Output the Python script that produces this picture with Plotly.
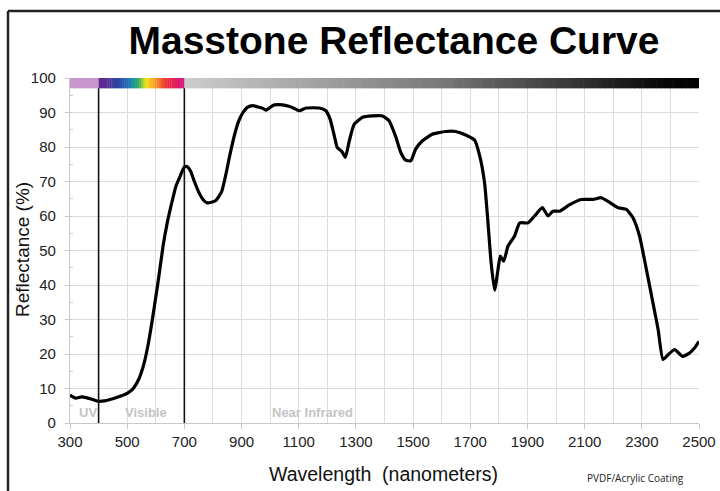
import plotly.graph_objects as go

# ---- data ----
wavelength = [300, 320, 340, 360, 380, 400, 420, 440, 460, 480, 500, 520, 540, 550, 560, 575, 590, 600, 610,
              625, 640, 655, 670, 685, 700, 710, 722, 735, 750, 765, 780, 795, 810, 830, 845, 860, 876, 890,
              905, 920, 940, 957, 975, 986, 1000, 1015, 1044, 1065, 1079, 1102, 1126, 1172, 1195, 1210, 1225,
              1235, 1251, 1263, 1277, 1294, 1323, 1358, 1393, 1416, 1430, 1440, 1457, 1474, 1492, 1509, 1533,
              1567, 1614, 1649, 1684, 1715, 1733, 1750, 1762, 1773, 1785, 1797, 1805, 1817, 1832, 1855, 1873,
              1902, 1925, 1952, 1972, 1989, 2013, 2048, 2088, 2129, 2158, 2181, 2217, 2246, 2269, 2292, 2316,
              2339, 2357, 2374, 2392, 2415, 2442, 2467, 2485, 2500]
reflectance = [8.1, 7.2, 7.6, 7.3, 6.8, 6.3, 6.4, 6.8, 7.3, 7.9, 8.6, 9.9, 12.6, 14.8, 17.6, 23.5, 31, 36.5, 42,
               51, 58, 63.5, 68.5, 71.5, 74.2, 74.3, 73, 70, 67, 64.8, 63.8, 64, 64.5, 67, 72, 78, 83.7, 87.5,
               90, 91.5, 92, 91.6, 91.2, 90.7, 91.5, 92.2, 92.2, 91.8, 91.4, 90.5, 91.3, 91.3, 90.5, 88, 83,
               79.8, 78.7, 77, 81.8, 86.6, 88.6, 89, 89, 87.6, 85, 82.8, 78.4, 76.2, 76, 79.4, 81.8,
               83.7, 84.5, 84.5, 83.5, 82, 77.4, 69.6, 58, 46.4, 38.5, 44.5, 48.4, 46.9, 51.3, 54.2, 58,
               58, 60, 62.4, 60, 61.4, 61.4, 63.3, 64.8, 64.8, 65.3, 64.3, 62.4, 61.9, 59.5, 54.2, 44.5,
               34.8, 27.1, 18.4, 19.8, 21.3, 19.3, 20.3, 21.8, 23.7]

x_ticks = [300, 500, 700, 900, 1100, 1300, 1500, 1700, 1900, 2100, 2300, 2500]
region_bounds = [300, 400, 700, 2500]
region_labels = ["UV", "Visible", "Near Infrared"]
region_label_x = [362, 565, 1148]

title_text = "Masstone Reflectance Curve"
x_title = "Wavelength  (nanometers)"
y_title = "Reflectance (%)"
note_text = "PVDF/Acrylic Coating"

# ---- styling helpers ----
rainbow_stops = [(0.0, (100, 40, 140)), (0.1, (85, 45, 150)), (0.2, (45, 65, 160)), (0.32, (35, 95, 180)),
                 (0.4, (30, 150, 170)), (0.47, (45, 170, 80)), (0.55, (245, 230, 30)), (0.67, (245, 145, 35)),
                 (0.8, (235, 40, 55)), (1.0, (212, 20, 135))]


def interp(stops, t):
    for (t0, c0), (t1, c1) in zip(stops[:-1], stops[1:]):
        if t0 <= t <= t1:
            f = (t - t0) / (t1 - t0) if t1 > t0 else 0
            return "rgb(%d,%d,%d)" % tuple(round(a + (b - a) * f) for a, b in zip(c0, c1))
    return "rgb(%d,%d,%d)" % stops[-1][1]


gray_stops = [(0.0, (205, 205, 205)), (0.5, (120, 120, 120)), (0.92, (10, 10, 10)), (1.0, (0, 0, 0))]

PW, PH, L, T = 629, 345, 70, 78  # plot area size/offset (px)


def px_to_paper(px, py):
    return (px - L) / PW, (T + PH - py) / PH


shapes = []
bar_lo, bar_hi = 97, 100
shapes.append(dict(type="rect", xref="x", yref="y", x0=region_bounds[0], x1=region_bounds[1],
                   y0=bar_lo, y1=bar_hi, fillcolor="rgb(200,150,205)", line=dict(width=0), layer="above"))
n = 40
for i in range(n):
    a = region_bounds[1] + (region_bounds[2] - region_bounds[1]) * i / n
    b = region_bounds[1] + (region_bounds[2] - region_bounds[1]) * (i + 1) / n
    shapes.append(dict(type="rect", xref="x", yref="y", x0=a, x1=b + 1, y0=bar_lo, y1=bar_hi,
                       fillcolor=interp(rainbow_stops, (i + 0.5) / n), line=dict(width=0), layer="above"))
n = 120
for i in range(n):
    a = region_bounds[2] + (region_bounds[3] - region_bounds[2]) * i / n
    b = region_bounds[2] + (region_bounds[3] - region_bounds[2]) * (i + 1) / n
    shapes.append(dict(type="rect", xref="x", yref="y", x0=a, x1=min(b + 2, region_bounds[3]), y0=bar_lo, y1=bar_hi,
                       fillcolor=interp(gray_stops, (i + 0.5) / n), line=dict(width=0), layer="above"))
for xb in region_bounds[1:3]:
    shapes.append(dict(type="line", xref="x", yref="y", x0=xb, x1=xb, y0=0, y1=bar_lo,
                       line=dict(color="#111111", width=1.6), layer="above"))
# outer frame (top and left)
fx0, fy0 = px_to_paper(8, 11)
fx1, fy1 = px_to_paper(725, 495)
shapes.append(dict(type="line", xref="paper", yref="paper", x0=fx0, x1=fx1, y0=fy0, y1=fy0,
                   line=dict(color="#222222", width=2.5)))
shapes.append(dict(type="line", xref="paper", yref="paper", x0=fx0, x1=fx0, y0=fy0, y1=fy1,
                   line=dict(color="#222222", width=2.5)))

fig = go.Figure()
fig.add_trace(go.Scatter(x=wavelength, y=reflectance, mode="lines",
                         line=dict(color="black", width=3.2, shape="spline", smoothing=0.5),
                         hoverinfo="x+y", showlegend=False))

annotations = []
for lbl, lx in zip(region_labels, region_label_x):
    annotations.append(dict(x=lx, y=0.4, xref="x", yref="y", text="<b>%s</b>" % lbl, showarrow=False,
                            xanchor="center", yanchor="bottom",
                            font=dict(family="Liberation Sans, Arial, sans-serif", size=13, color="#c4c4c4")))
nx, ny = px_to_paper(635, 478)
annotations.append(dict(x=nx, y=ny, xref="paper", yref="paper", text=note_text,
                        showarrow=False, xanchor="center", yanchor="middle",
                        font=dict(family="Open Sans, sans-serif", size=10, color="#222222")))
tx, ty = px_to_paper(383, 474)
annotations.append(dict(x=tx, y=ty, xref="paper", yref="paper", text=x_title,
                        showarrow=False, xanchor="center", yanchor="middle",
                        font=dict(family="Liberation Sans, Arial, sans-serif", size=19.5, color="#111111")))
yx, yy = px_to_paper(22, 250)
annotations.append(dict(x=yx, y=yy, xref="paper", yref="paper", text=y_title, textangle=-90,
                        showarrow=False, xanchor="center", yanchor="middle",
                        font=dict(family="Liberation Sans, Arial, sans-serif", size=19, color="#111111")))

fig.update_layout(
    width=720, height=491,
    margin=dict(l=L, r=720 - L - PW, t=T, b=491 - T - PH, autoexpand=False),
    paper_bgcolor="white", plot_bgcolor="white",
    title=dict(text="<b>%s</b>" % title_text, x=394 / 720, xanchor="center", y=1 - 40 / 491,
               yanchor="middle", yref="container",
               font=dict(family="Liberation Sans, Arial, sans-serif", size=39, color="black")),
    shapes=shapes, annotations=annotations,
    xaxis=dict(range=[300, 2500], tickvals=x_ticks, showgrid=True, gridcolor="#dcdcdc", gridwidth=1,
               minor=dict(dtick=100, tick0=300, showgrid=True, gridcolor="#dcdcdc", gridwidth=1),
               showline=True, linecolor="#c8c8c8", linewidth=1.2, ticks="outside", ticklen=5,
               tickcolor="#c8c8c8", zeroline=False, automargin=False,
               tickfont=dict(family="Liberation Sans, Arial, sans-serif", size=15, color="#222222")),
    yaxis=dict(range=[0, 100], dtick=10, showgrid=True, gridcolor="#dcdcdc", gridwidth=1,
               showline=True, linecolor="#c8c8c8", linewidth=1.2, ticks="outside", ticklen=4,
               tickcolor="#c8c8c8", zeroline=False, automargin=False, ticklabelstandoff=6,
               minor=dict(dtick=5, ticks="inside", ticklen=3, tickcolor="#c8c8c8", showgrid=False),
               tickfont=dict(family="Liberation Sans, Arial, sans-serif", size=15, color="#222222")),
)

fig.write_html("out.html", config={"displayModeBar": False},
               post_script="document.body.style.margin='0';document.body.style.overflow='hidden';")
